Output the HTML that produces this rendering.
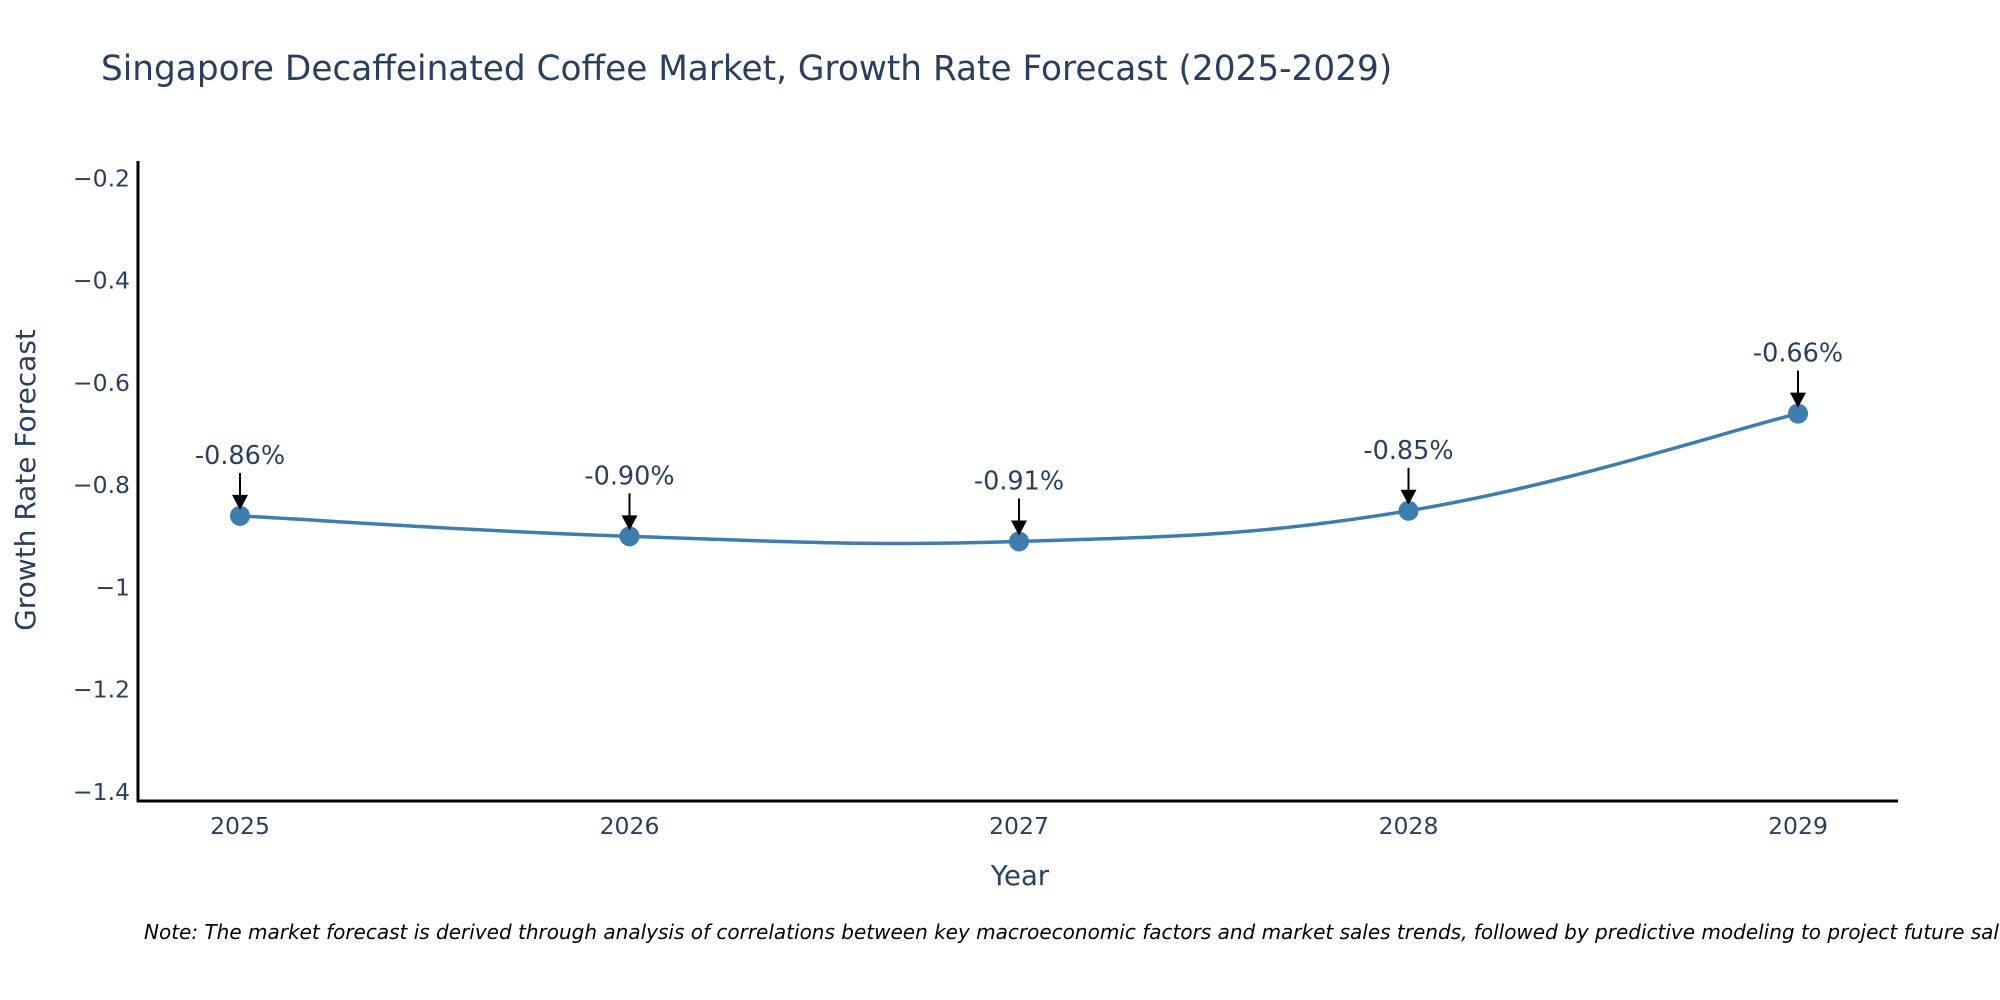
<!DOCTYPE html>
<html><head><meta charset="utf-8"><style>
html,body{margin:0;padding:0;background:#fff;}
svg{display:block;font-family:"DejaVu Sans","Liberation Sans",sans-serif;}
</style></head><body>
<svg id="chart" width="2000" height="1000" viewBox="0 0 2000 1000">
<rect width="2000" height="1000" fill="#fff"/>
<text x="101" y="80" font-size="34.3" fill="#2a3f5f">Singapore Decaffeinated Coffee Market, Growth Rate Forecast (2025-2029)</text>
<g id="yticks"></g>
<g id="xticks"></g>
<line x1="138" y1="161" x2="138" y2="802" stroke="#000" stroke-width="3"/>
<line x1="137" y1="801" x2="1898" y2="801" stroke="#000" stroke-width="3"/>
<g id="series"></g>
<g id="annots"></g>
<text x="1020" y="885" font-size="27.5" fill="#2a3f5f" text-anchor="middle">Year</text>
<text transform="translate(35,480) rotate(-90)" font-size="28" fill="#2a3f5f" text-anchor="middle">Growth Rate Forecast</text>
<text x="144" y="939" font-size="20" font-style="italic" fill="#000">Note: The market forecast is derived through analysis of correlations between key macroeconomic factors and market sales trends, followed by predictive modeling to project future sales.</text>
</svg>
<script>
const years = [2025, 2026, 2027, 2028, 2029];
const values = [-0.86, -0.90, -0.91, -0.85, -0.66];
const labels = ["-0.86%", "-0.90%", "-0.91%", "-0.85%", "-0.66%"];
const yTicks = [-0.2, -0.4, -0.6, -0.8, -1, -1.2, -1.4];
const yTickLabels = ["\u22120.2", "\u22120.4", "\u22120.6", "\u22120.8", "\u22121", "\u22121.2", "\u22121.4"];

const NS = "http://www.w3.org/2000/svg";
const yMin = -1.4176, yMax = -0.166, pTop = 161, pBot = 801;
const xFirst = 240, xLast = 1798;
function yS(v){ return pBot - (v - yMin) / (yMax - yMin) * (pBot - pTop); }
function xS(yr){ return xFirst + (yr - years[0]) / (years[years.length-1] - years[0]) * (xLast - xFirst); }
function mk(tag, attrs, parent){ const e = document.createElementNS(NS, tag); for (const k in attrs) e.setAttribute(k, attrs[k]); parent.appendChild(e); return e; }

const yg = document.getElementById('yticks');
yTicks.forEach((t, i) => {
  const tx = mk('text', {x: 130, y: yS(t) + 8, 'font-size': 23.5, fill: '#2a3f5f', 'text-anchor': 'end'}, yg);
  tx.textContent = yTickLabels[i];
  
  
});
const xg = document.getElementById('xticks');
years.forEach(yr => {
  const tx = mk('text', {x: xS(yr), y: 834, 'font-size': 23.5, fill: '#2a3f5f', 'text-anchor': 'middle'}, xg);
  tx.textContent = String(yr);
  
  
});

const sg = document.getElementById('series');
const pts = years.map((yr, i) => [xS(yr), yS(values[i])]);
let d = `M${pts[0][0]},${pts[0][1]}`;
const s = 0.2;
for (let i = 0; i < pts.length - 1; i++) {
  const p0 = pts[Math.max(0, i-1)], p1 = pts[i], p2 = pts[i+1], p3 = pts[Math.min(pts.length-1, i+2)];
  const c1 = [p1[0] + (p2[0]-p0[0])*s, p1[1] + (p2[1]-p0[1])*s];
  const c2 = [p2[0] - (p3[0]-p1[0])*s, p2[1] - (p3[1]-p1[1])*s];
  d += ` C${c1[0]},${c1[1]} ${c2[0]},${c2[1]} ${p2[0]},${p2[1]}`;
}
const line = mk('path', {d: d, fill: 'none', stroke: '#3d7eae', 'stroke-width': 3.5}, sg);


pts.forEach(p => {
  const c = mk('circle', {cx: p[0], cy: p[1], r: 10, fill: '#3d7eae'}, sg);
  
  
});

const ag = document.getElementById('annots');
pts.forEach((p, i) => {
  const ln = mk('line', {x1: p[0], y1: p[1] - 43, x2: p[0], y2: p[1] - 20, stroke: '#000', 'stroke-width': 2}, ag);
  
  
  const hd = mk('polygon', {points: `${p[0]-8},${p[1]-21} ${p[0]+8},${p[1]-21} ${p[0]},${p[1]-6}`, fill: '#000'}, ag);
  
  
  const tx = mk('text', {x: p[0], y: p[1] - 52, 'font-size': 25.5, fill: '#2a3f5f', 'text-anchor': 'middle'}, ag);
  tx.textContent = labels[i];
  
  
});
</script>
</body></html>
